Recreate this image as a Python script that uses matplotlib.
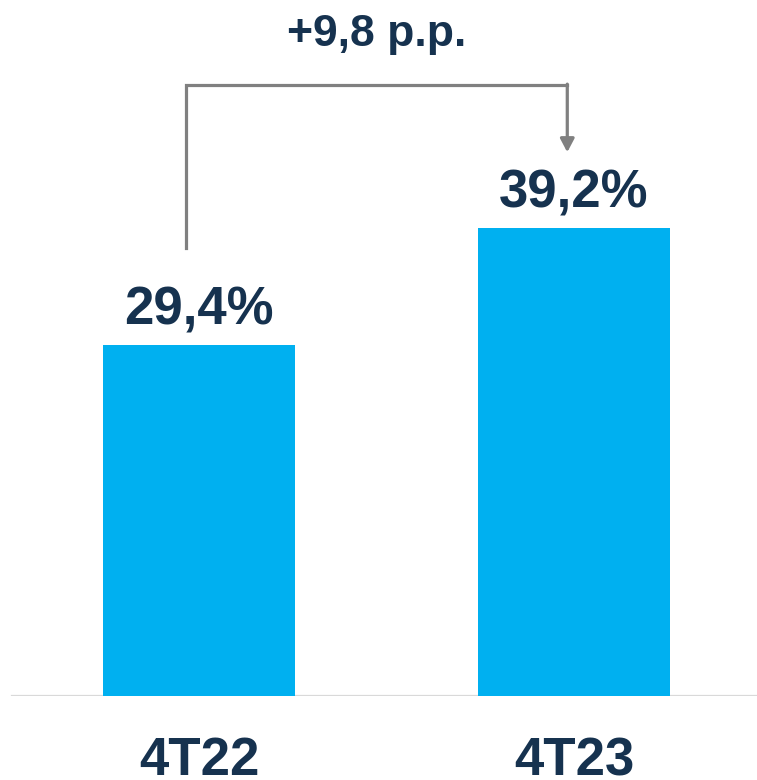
import numpy as np
import matplotlib.pyplot as plt

# data
categories = ['4T22', '4T23']
values = [29.4, 39.2]
value_labels = ['29,4%', '39,2%']
delta_label = '+9,8 p.p.'

BAR_COLOR = '#00B0F0'
TEXT_COLOR = '#16324F'
ARROW_COLOR = '#808080'

plt.rcParams['font.family'] = ['Liberation Sans', 'DejaVu Sans']

fig = plt.figure(figsize=(7.57, 7.80), dpi=100)
# axes spans the whole width, bottom at the baseline (y=696px from top)
ax = fig.add_axes([0, 84 / 780, 1, 696 / 780])

x = np.arange(len(categories))
ax.bar(x, values, width=0.512, color=BAR_COLOR, zorder=2)

ax.set_xlim(-0.531, 1.488)
ax.set_ylim(0, 58.24)
ax.axis('off')

# baseline
ax.axhline(0, xmin=12 / 757, xmax=1, color='#D9D9D9', lw=1.6, zorder=1)

# value labels
for xi, v, lab in zip(x, values, value_labels):
    ax.annotate(lab, (xi, v), xytext=(0, 14.5), textcoords='offset points',
                ha='center', va='baseline', fontsize=38, fontweight='bold',
                color=TEXT_COLOR)

# category labels (sit right at the bottom edge, like the original)
for xi, cat in zip(x, categories):
    ax.annotate(cat, (xi, 0), xytext=(0, -57), textcoords='offset points',
                ha='center', va='baseline', fontsize=38, fontweight='bold',
                color=TEXT_COLOR, annotation_clip=False)

# bracket arrow between the two bars
x0, x1 = x[0] - 0.035, x[1] - 0.018
y_start = values[0] + 8.1
y_top = 51.1
y_end = values[1] + 6.3
ax.plot([x0, x0, x1], [y_start, y_top, y_top], color=ARROW_COLOR, lw=2.3,
        solid_joinstyle='miter', clip_on=False)
ax.annotate('', xy=(x1, y_end), xytext=(x1, y_top + 0.1),
            arrowprops=dict(arrowstyle='-|>,head_length=0.8,head_width=0.42',
                            color=ARROW_COLOR, lw=2.3, shrinkA=0, shrinkB=0))

ax.annotate(delta_label, ((x0 + x1) / 2, y_top), xytext=(0, 28),
            textcoords='offset points', ha='center', va='baseline',
            fontsize=32, fontweight='bold', color=TEXT_COLOR,
            annotation_clip=False)

fig.savefig('out.png', dpi=100)
